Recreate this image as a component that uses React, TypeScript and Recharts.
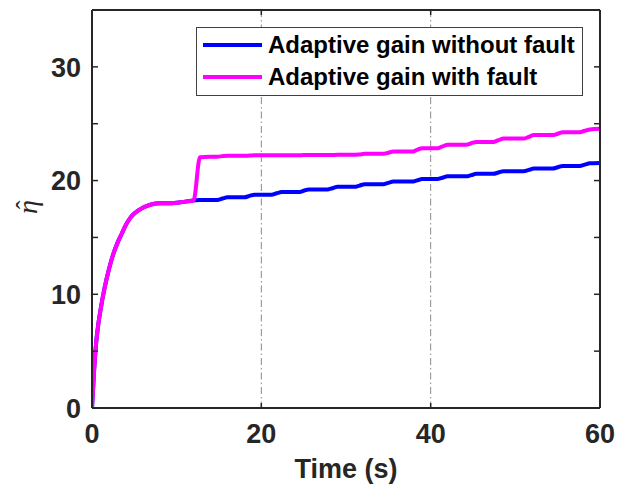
import React from 'react';
import { LineChart, Line, XAxis, YAxis, CartesianGrid, Legend } from 'recharts';

// time (s)
const time = [
  0, 0.25, 0.5, 0.75, 1, 1.5, 2, 2.5, 3, 3.5, 4, 4.5, 5, 6, 7, 8, 9, 10, 11, 12,
  12.75, 14.0, 14.8, 15.4, 16.0, 18.0, 18.6, 19.2, 21.2, 21.8, 22.4, 24.4, 25.0, 25.6,
  27.8, 28.4, 29.0, 31.0, 31.6, 32.2, 34.4, 35.0, 35.6, 37.8, 38.4, 39.0, 40.8, 41.4,
  42.0, 44.2, 44.8, 45.4, 47.4, 48.0, 48.6, 51.0, 51.6, 52.2, 54.4, 55.0, 55.6, 57.6,
  58.2, 58.8, 60,
];

// Adaptive gain without fault
const gainWithoutFault = [
  0, 3.3, 5.8, 7.4, 8.6, 10.6, 12.2, 13.5, 14.5, 15.3, 16.1, 16.7, 17.1, 17.6, 17.9, 18.0, 18.0, 18.05, 18.15, 18.25,
  18.3, 18.3, 18.3, 18.42, 18.53, 18.53, 18.65, 18.76, 18.76, 18.88, 18.99, 18.99, 19.1, 19.22,
  19.22, 19.33, 19.45, 19.45, 19.56, 19.68, 19.68, 19.8, 19.91, 19.91, 20.02, 20.14, 20.14, 20.25,
  20.37, 20.37, 20.48, 20.6, 20.6, 20.71, 20.83, 20.83, 20.94, 21.06, 21.06, 21.17, 21.29, 21.29,
  21.4, 21.52, 21.55,
];

// Adaptive gain with fault
const gainWithFault = [
  0, 3.3, 5.8, 7.4, 8.6, 10.6, 12.2, 13.5, 14.5, 15.3, 16.1, 16.7, 17.1, 17.6, 17.9, 18.0, 18.0, 18.05, 18.15, 18.25,
  22.05, 22.1, 22.1, 22.15, 22.18, 22.18, 22.2, 22.22, 22.22, 22.23, 22.23, 22.23, 22.24, 22.24,
  22.24, 22.25, 22.26, 22.26, 22.3, 22.35, 22.35, 22.45, 22.55, 22.55, 22.7, 22.85, 22.85, 23.0,
  23.15, 23.15, 23.28, 23.4, 23.4, 23.55, 23.7, 23.7, 23.85, 24.0, 24.0, 24.12, 24.25, 24.25,
  24.38, 24.5, 24.55,
];

const xTicks = [0, 20, 40, 60];
const yTicks = [0, 5, 10, 15, 20, 25, 30];
const yLabelled = [0, 10, 20, 30];
const seriesNames = ['Adaptive gain without fault', 'Adaptive gain with fault'];
const seriesColors = ['#0000FF', '#FF00FF'];

const data = time.map((t, i) => ({ t, noFault: gainWithoutFault[i], fault: gainWithFault[i] }));

const AXIS = '#262626';
const FONT = '"Liberation Sans", Arial, Helvetica, sans-serif';

const LeftTick = (props: any) => {
  const { x, y, payload } = props;
  const major = yLabelled.includes(payload.value);
  return (
    <g>
      <line x1={x} x2={x + 6} y1={y} y2={y} stroke={AXIS} strokeWidth={1.5} />
      {major && (
        <text x={x - 11} y={y} dy={9.7} textAnchor="end" fill={AXIS} fontFamily={FONT} fontWeight="bold" fontSize={27}>
          {payload.value}
        </text>
      )}
    </g>
  );
};

const RightTick = (props: any) => {
  const { x, y } = props;
  return <line x1={x - 6} x2={x} y1={y} y2={y} stroke={AXIS} strokeWidth={1.5} />;
};

const BottomTick = (props: any) => {
  const { x, y, payload } = props;
  return (
    <g>
      <line x1={x} x2={x} y1={y - 5} y2={y} stroke={AXIS} strokeWidth={1.5} />
      <text x={x} y={y + 35} textAnchor="middle" fill={AXIS} fontFamily={FONT} fontWeight="bold" fontSize={27}>
        {payload.value}
      </text>
    </g>
  );
};

const TopTick = (props: any) => {
  const { x, y } = props;
  return <line x1={x} x2={x} y1={y} y2={y + 5} stroke={AXIS} strokeWidth={1.5} />;
};

const XLabel = (props: any) => {
  const vb = props.viewBox || {};
  return (
    <text x={vb.x + vb.width / 2} y={vb.y + 70} textAnchor="middle" fill={AXIS} fontFamily={FONT} fontWeight="bold" fontSize={27}>
      Time (s)
    </text>
  );
};

const YLabel = (props: any) => {
  const vb = props.viewBox || {};
  const cx = vb.x + 31;
  const cy = vb.y + vb.height / 2 - 2;
  const serif = '"Liberation Serif", "DejaVu Serif", serif';
  return (
    <g transform={`rotate(-90, ${cx}, ${cy})`}>
      <text x={cx} y={cy + 6} textAnchor="middle" fill={AXIS} fontFamily={serif} fontStyle="italic" fontSize={28}>
        η
      </text>
      <text x={cx + 2} y={cy + 3} textAnchor="middle" fill={AXIS} fontFamily={serif} fontSize={26}>
        ˆ
      </text>
    </g>
  );
};

const renderLegend = (props: any) => {
  const raw = props.payload && props.payload.length ? props.payload : seriesNames.map((n, i) => ({ value: n, color: seriesColors[i] }));
  const payload = [...raw].sort((a: any, b: any) => seriesNames.indexOf(a.value) - seriesNames.indexOf(b.value));
  return (
    <div style={{ width: 385, height: 67, border: '1px solid #404040', background: '#fff', position: 'relative', fontFamily: FONT, fontWeight: 'bold', fontSize: 24, color: '#000' }}>
      {payload.map((it: any, i: number) => (
        <div key={i} style={{ position: 'absolute', left: 0, top: 1 + i * 32, height: 32, display: 'flex', alignItems: 'center', whiteSpace: 'nowrap', lineHeight: '32px' }}>
          <svg width={66} height={32} style={{ display: 'block' }}>
            <line x1={6} x2={65} y1={16} y2={16} stroke={it.color} strokeWidth={4} />
          </svg>
          <span style={{ marginLeft: 5 }}>{it.value}</span>
        </div>
      ))}
    </div>
  );
};

export default function App() {
  return (
    <div style={{ position: 'absolute', left: 0, top: 0, width: 630, height: 485, background: '#fff' }}>
      <LineChart width={630} height={485} data={data} margin={{ top: 9, right: 29, bottom: 0, left: 0 }}>
        <CartesianGrid xAxisId="b" yAxisId="l" horizontal={false} stroke="#8a8a8a" strokeWidth={1} strokeDasharray="7 3 1.5 3" />
        <XAxis xAxisId="b" dataKey="t" type="number" domain={[0, 60]} ticks={xTicks} interval={0}
          tickSize={0} tickMargin={0} tickLine={false} axisLine={{ stroke: AXIS, strokeWidth: 2 }}
          tick={BottomTick} height={77} label={<XLabel />} allowDataOverflow />
        <XAxis xAxisId="t" orientation="top" dataKey="t" type="number" domain={[0, 60]} ticks={xTicks} interval={0}
          tickSize={0} tickMargin={0} tickLine={false} axisLine={{ stroke: AXIS, strokeWidth: 2 }}
          tick={TopTick} height={1} allowDataOverflow />
        <YAxis yAxisId="l" type="number" domain={[0, 35]} ticks={yTicks} interval={0}
          tickSize={0} tickMargin={0} tickLine={false} axisLine={{ stroke: AXIS, strokeWidth: 2 }}
          tick={LeftTick} width={92} label={<YLabel />} allowDataOverflow />
        <YAxis yAxisId="r" orientation="right" type="number" domain={[0, 35]} ticks={yTicks} interval={0}
          tickSize={0} tickMargin={0} tickLine={false} axisLine={{ stroke: AXIS, strokeWidth: 2 }}
          tick={RightTick} width={1} allowDataOverflow />
        <Legend layout="vertical" align="center" verticalAlign="middle" content={renderLegend}
          wrapperStyle={{ left: 196, top: 27, width: 387, height: 69 }} />
        <Line xAxisId="b" yAxisId="l" type="monotone" dataKey="noFault" name={seriesNames[0]} stroke={seriesColors[0]}
          strokeWidth={4} dot={false} isAnimationActive={false} />
        <Line xAxisId="b" yAxisId="l" type="monotone" dataKey="fault" name={seriesNames[1]} stroke={seriesColors[1]}
          strokeWidth={4} dot={false} isAnimationActive={false} />
      </LineChart>
    </div>
  );
}
